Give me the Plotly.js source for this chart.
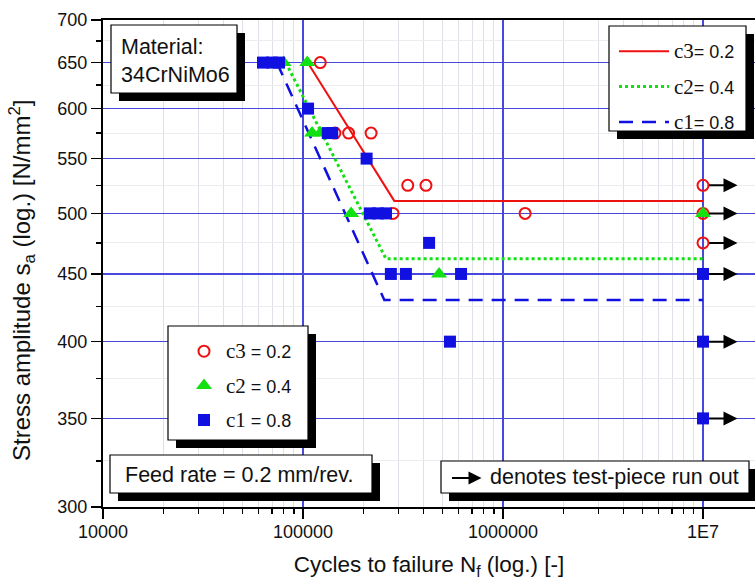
<!DOCTYPE html>
<html><head><meta charset="utf-8">
<script src="https://cdn.plot.ly/plotly-3.0.1.min.js"></script>
<style>html,body{margin:0;padding:0;background:#fff}</style>
</head><body><div id="chart" style="width:755px;height:580px"></div>
<script>
// S-N curves (cycles, stress amplitude)
const lineC3N = [105500, 286000, 1e7];
const lineC3S = [650, 511, 511];
const lineC2N = [82000, 260000, 1e7];
const lineC2S = [650, 462, 462];
const lineC1N = [74000, 255000, 1e7];
const lineC1S = [650, 430, 430];

// test results
const c3N = [122000, 144500, 169000, 219000, 282000, 334000, 412000, 1290000, 1e7, 1e7, 1e7];
const c3S = [650, 575, 575, 575, 500, 525, 525, 500, 525, 500, 475];
const c2N = [80000, 105000, 111000, 122000, 174000, 479000, 1e7];
const c2S = [650, 650, 575, 575, 500, 450, 500];
const c1N = [63100, 70000, 75900, 106000, 133000, 140000, 208000, 216000, 237000, 260000, 427000, 275000, 327000, 617000, 543000, 1e7, 1e7, 1e7];
const c1S = [650, 650, 650, 600, 575, 575, 550, 500, 500, 500, 475, 450, 450, 450, 400, 450, 400, 350];

// run-outs
const runoutN = [1e7, 1e7, 1e7, 1e7, 1e7, 1e7];
const runoutS = [525, 500, 475, 450, 400, 350];

// ticks
const xTickVals = [1e4, 1e5, 1e6, 1e7];
const xTickText = ['10000', '100000', '1000000', '1E7'];
const yTickVals = [300, 350, 400, 450, 500, 550, 600, 650, 700];
const yMinorVals = [325, 375, 425, 475, 525, 575, 625, 675];
const xMinorVals = [];
for (const dec of [1e4, 1e5, 1e6, 1e7]) for (let m = 2; m <= 9; m++) xMinorVals.push(m * dec);

// labels
const serif = s => '<span style="font-family:Liberation Serif;font-size:21px">' + s + '</span>';
const sans = s => '<span style="font-family:Liberation Sans">' + s + '</span>';
const nameLineC3 = serif('c3') + sans('= 0.2');
const nameLineC2 = serif('c2') + sans('= 0.4');
const nameLineC1 = serif('c1') + sans('= 0.8');
const nameMkC3 = serif('c3') + sans(' = 0.2');
const nameMkC2 = serif('c2') + sans(' = 0.4');
const nameMkC1 = serif('c1') + sans(' = 0.8');

const RED = '#ee1111', GREEN = '#11e011', BLUE = '#1010e0';
const FONT = 'Liberation Sans, Arial, sans-serif';

// pixel -> paper helpers
const L = 103, T = 20, W = 652, H = 487;
const px = x => (x - L) / W;
const py = y => (T + H - y) / H;

const traces = [
  {x: lineC3N, y: lineC3S, mode: 'lines', name: nameLineC3, legend: 'legend', legendgroup: 'a',
   line: {color: RED, width: 2}},
  {x: lineC2N, y: lineC2S, mode: 'lines', name: nameLineC2, legend: 'legend', legendgroup: 'b',
   line: {color: GREEN, width: 3, dash: 'dot'}},
  {x: lineC1N, y: lineC1S, mode: 'lines', name: nameLineC1, legend: 'legend', legendgroup: 'c',
   line: {color: BLUE, width: 2.5, dash: '14px,9px'}},
  {x: c3N, y: c3S, mode: 'markers', name: nameMkC3, legend: 'legend2', legendgroup: 'd',
   marker: {symbol: 'circle-open', size: 11, color: RED, line: {width: 2, color: RED}}},
  {x: c2N, y: c2S, mode: 'markers', name: nameMkC2, legend: 'legend2', legendgroup: 'e',
   marker: {symbol: 'triangle-up', size: 14, color: GREEN}},
  {x: c1N, y: c1S, mode: 'markers', name: nameMkC1, legend: 'legend2', legendgroup: 'f',
   marker: {symbol: 'square', size: 12, color: BLUE}}
];

function box(x0, y0, x1, y1) {
  return [
    {type: 'rect', xref: 'paper', yref: 'paper', layer: 'above',
     x0: px(x0 + 8), x1: px(x1 + 8), y0: py(y0 + 8), y1: py(y1 + 8),
     fillcolor: 'black', line: {width: 0}},
    {type: 'rect', xref: 'paper', yref: 'paper', layer: 'above',
     x0: px(x0), x1: px(x1), y0: py(y0), y1: py(y1),
     fillcolor: 'white', line: {width: 1.2, color: 'black'}}
  ];
}

const shapes = [].concat(
  box(111, 25, 237, 93),
  box(609, 26, 746, 131),
  box(168, 326, 308, 440),
  box(110, 455, 372, 493),
  box(441, 461, 749, 493)
);

const annotations = [
  {xref: 'paper', yref: 'paper', x: px(119), y: py(61), xanchor: 'left', yanchor: 'middle', align: 'left',
   text: 'Material:<br>34CrNiMo6', showarrow: false, font: {family: FONT, size: 21.5, color: '#111'}},
  {xref: 'paper', yref: 'paper', x: px(123), y: py(475), xanchor: 'left', yanchor: 'middle',
   text: 'Feed rate = 0.2 mm/rev.', showarrow: false, font: {family: FONT, size: 21.5, color: '#111'}},
  {xref: 'paper', yref: 'paper', x: px(488), y: py(477), xanchor: 'left', yanchor: 'middle',
   text: 'denotes test-piece run out', showarrow: false, font: {family: FONT, size: 21.5, color: '#111'}},
  {xref: 'paper', yref: 'paper', x: px(452), y: py(478), ax: 31, ay: 0, text: '', showarrow: true,
   arrowside: 'start', startarrowhead: 2, startarrowsize: 1.3, arrowwidth: 2, arrowcolor: 'black'},
  {xref: 'paper', yref: 'paper', x: px(22), y: py(281), textangle: -90, xanchor: 'center', yanchor: 'middle',
   text: 'Stress amplitude s<sub>a</sub> (log.) [N/mm<sup>2</sup>]', showarrow: false,
   font: {family: FONT, size: 24, color: '#111'}}
];
for (let i = 0; i < runoutN.length; i++) {
  annotations.push({x: Math.log10(runoutN[i]), y: Math.log10(runoutS[i]), xref: 'x', yref: 'y',
    ax: 36, ay: 0, text: '', showarrow: true, arrowside: 'start', standoff: 6,
    startarrowhead: 2, startarrowsize: 1.4, arrowwidth: 2, arrowcolor: 'black'});
}

const layout = {
  width: 755, height: 580,
  margin: {l: L, r: 755 - L - W, t: T, b: 580 - T - H, pad: 0},
  paper_bgcolor: 'white', plot_bgcolor: 'white',
  font: {family: FONT, color: '#111'},
  xaxis: {
    type: 'log', range: [4, 4 + W / 200], autorange: false,
    tickmode: 'array', tickvals: xTickVals, ticktext: xTickText,
    ticks: 'outside', ticklen: 10, tickwidth: 1.5, tickcolor: 'black',
    ticklabelstandoff: -3,
    showline: true, linecolor: 'black', linewidth: 2, mirror: true,
    showgrid: true, gridcolor: '#4848dc', gridwidth: 1.4, zeroline: false,
    tickfont: {family: FONT, size: 18, color: '#111'},
    title: {text: 'Cycles to failure N<sub>f</sub> (log.) [-]', font: {family: FONT, size: 22.5, color: '#111'}, standoff: 18},
    minor: {tickmode: 'array', tickvals: xMinorVals, ticks: 'outside', ticklen: 5, tickwidth: 1.3, tickcolor: 'black',
            showgrid: true, gridcolor: '#e0e0e8', gridwidth: 1}
  },
  yaxis: {
    type: 'log', range: [Math.log10(300), Math.log10(700)], autorange: false,
    tickmode: 'array', tickvals: yTickVals,
    ticks: 'outside', ticklen: 10, tickwidth: 1.5, tickcolor: 'black',
    showline: true, linecolor: 'black', linewidth: 2,
    showgrid: true, gridcolor: '#4848dc', gridwidth: 1.4, zeroline: false,
    tickfont: {family: FONT, size: 18, color: '#111'},
    minor: {tickmode: 'array', tickvals: yMinorVals, ticks: 'outside', ticklen: 5, tickwidth: 1.3, tickcolor: 'black',
            showgrid: true, gridcolor: '#ececf0', gridwidth: 1}
  },
  showlegend: true,
  legend: {x: px(614), y: py(33), xanchor: 'left', yanchor: 'top', bgcolor: 'rgba(0,0,0,0)', borderwidth: 0,
           font: {family: FONT, size: 18, color: '#111'}, tracegroupgap: 9, itemwidth: 50},
  legend2: {x: px(182), y: py(333), xanchor: 'left', yanchor: 'top', bgcolor: 'rgba(0,0,0,0)', borderwidth: 0,
            font: {family: FONT, size: 18, color: '#111'}, tracegroupgap: 8, itemwidth: 34},
  shapes: shapes,
  annotations: annotations
};

Plotly.newPlot('chart', traces, layout, {displayModeBar: false, staticPlot: true});
</script>
</body></html>
